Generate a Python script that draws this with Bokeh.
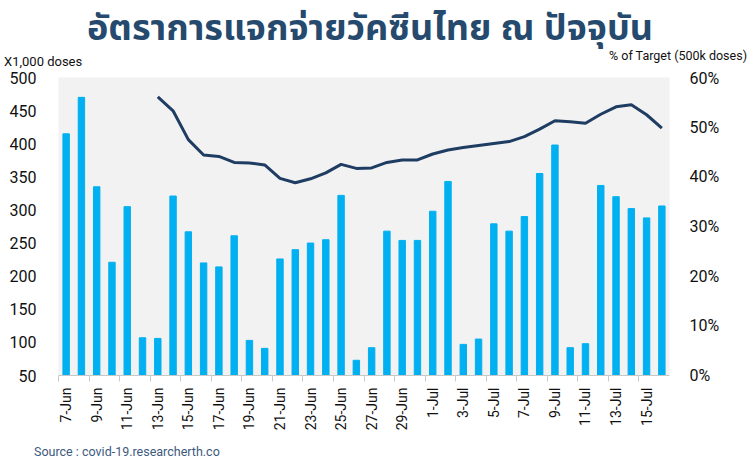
from bokeh.plotting import figure
from bokeh.models import (Range1d, LinearAxis, FixedTicker, NumeralTickFormatter,
                          ColumnDataSource, Div)
from bokeh.layouts import column
from bokeh.embed import file_html
from bokeh.resources import INLINE

dates = ["7-Jun", "8-Jun", "9-Jun", "10-Jun", "11-Jun", "12-Jun", "13-Jun", "14-Jun",
         "15-Jun", "16-Jun", "17-Jun", "18-Jun", "19-Jun", "20-Jun", "21-Jun", "22-Jun",
         "23-Jun", "24-Jun", "25-Jun", "26-Jun", "27-Jun", "28-Jun", "29-Jun", "30-Jun",
         "1-Jul", "2-Jul", "3-Jul", "4-Jul", "5-Jul", "6-Jul", "7-Jul", "8-Jul",
         "9-Jul", "10-Jul", "11-Jul", "12-Jul", "13-Jul", "14-Jul", "15-Jul", "16-Jul"]
doses_k = [415, 470, 335, 221, 305, 107, 106, 321, 267, 220, 214, 261, 103, 91, 226, 240,
           250, 255, 322, 73, 92, 268, 254, 254, 298, 343, 97, 105, 279, 268, 290, 355,
           398, 92, 98, 337, 320, 302, 288, 306]
line_dates = ["13-Jun", "14-Jun", "15-Jun", "16-Jun", "17-Jun", "18-Jun", "19-Jun", "20-Jun",
              "21-Jun", "22-Jun", "23-Jun", "24-Jun", "25-Jun", "26-Jun", "27-Jun", "28-Jun",
              "29-Jun", "30-Jun", "1-Jul", "2-Jul", "3-Jul", "4-Jul", "5-Jul", "6-Jul",
              "7-Jul", "8-Jul", "9-Jul", "10-Jul", "11-Jul", "12-Jul", "13-Jul", "14-Jul",
              "15-Jul", "16-Jul"]
pct_target = [0.561, 0.533, 0.475, 0.444, 0.441, 0.429, 0.428, 0.424, 0.397, 0.388,
              0.396, 0.408, 0.425, 0.417, 0.418, 0.429, 0.434, 0.434, 0.446, 0.454,
              0.459, 0.463, 0.467, 0.471, 0.481, 0.496, 0.513, 0.511, 0.508, 0.526,
              0.541, 0.545, 0.525, 0.498]
label_dates = ["7-Jun", "9-Jun", "11-Jun", "13-Jun", "15-Jun", "17-Jun", "19-Jun", "21-Jun",
               "23-Jun", "25-Jun", "27-Jun", "29-Jun", "1-Jul", "3-Jul", "5-Jul", "7-Jul",
               "9-Jul", "11-Jul", "13-Jul", "15-Jul"]

title_text = "อัตราการแจกจ่ายวัคซีนไทย ณ ปัจจุบัน"
left_unit = "X1,000 doses"
right_unit = "% of Target (500k doses)"
source_text = "Source : covid-19.researcherth.co"

FONT = "Roboto"
idx = {d: i for i, d in enumerate(dates)}
xs = [idx[d] for d in dates]
lx = [idx[d] for d in line_dates]

W = 747
TOP_H = 68
top_div = Div(width=W, height=TOP_H, margin=0, text=(
    '<div style="position:relative;width:747px;height:68px;">'
    '<div style="position:absolute;left:0;top:14px;width:740px;text-align:center;'
    'font-family:\'Noto Sans Thai\',\'Noto Sans\',sans-serif;font-weight:bold;font-size:36px;'
    'line-height:30px;color:#264a6e;white-space:nowrap;">' + title_text + '</div>'
    '<div style="position:absolute;left:4px;top:55px;font-family:Roboto,sans-serif;'
    'font-size:13px;line-height:13px;color:#111;white-space:nowrap;">' + left_unit + '</div>'
    '<div style="position:absolute;right:0;top:50px;font-family:Roboto,sans-serif;'
    'font-size:12.5px;line-height:12px;color:#111;white-space:nowrap;">' + right_unit + '</div>'
    '</div>'))

p = figure(width=W, height=369, output_backend="svg", toolbar_location=None,
           x_range=Range1d(-0.5, len(dates) - 0.5), y_range=Range1d(50, 500),
           min_border_left=58, min_border_right=78, min_border_top=9, min_border_bottom=62,
           margin=0)
p.outline_line_color = None
p.background_fill_color = "#f2f2f2"
p.border_fill_color = None
p.xgrid.visible = False
p.ygrid.visible = False

p.extra_y_ranges = {"pct": Range1d(0, 0.6)}

bsrc = ColumnDataSource(dict(x=xs, top=doses_k))
p.vbar(x="x", top="top", bottom=50, width=0.42, color="#00b0f0", source=bsrc)
lsrc = ColumnDataSource(dict(x=lx, y=pct_target))
p.line(x="x", y="y", y_range_name="pct", line_color="#1f3d63", line_width=3, source=lsrc)

xa = p.xaxis[0]
major = [idx[d] for d in label_dates]
xa.ticker = FixedTicker(ticks=major, minor_ticks=[m - 0.5 for m in major])
xa.major_label_overrides = {idx[d]: d for d in label_dates}
xa.major_label_orientation = 1.5708
xa.major_tick_out = 0
xa.major_tick_in = 0
xa.minor_tick_out = 6
xa.minor_tick_in = 0
xa.minor_tick_line_color = "#c8c8c8"
xa.axis_line_color = "#c8c8c8"
xa.major_label_text_font = FONT
xa.major_label_text_font_size = "14px"
xa.major_label_text_color = "#111111"
xa.major_label_standoff = 6

ya = p.yaxis[0]
ya.ticker = FixedTicker(ticks=[50, 100, 150, 200, 250, 300, 350, 400, 450, 500])
ya.axis_line_color = None
ya.major_tick_line_color = None
ya.minor_tick_line_color = None
ya.major_label_text_font = FONT
ya.major_label_text_font_size = "16px"
ya.major_label_text_color = "#111111"
ya.major_label_standoff = 16

ra = LinearAxis(y_range_name="pct", ticker=FixedTicker(ticks=[0, 0.1, 0.2, 0.3, 0.4, 0.5, 0.6]),
                formatter=NumeralTickFormatter(format="0%"))
ra.axis_line_color = None
ra.major_tick_line_color = None
ra.minor_tick_line_color = None
ra.major_label_text_font = FONT
ra.major_label_text_font_size = "16px"
ra.major_label_text_color = "#111111"
ra.major_label_standoff = 14
p.add_layout(ra, "right")

bottom_div = Div(width=W, height=20, margin=0, text=(
    '<div style="position:relative;width:747px;height:20px;">'
    '<div style="position:absolute;left:34px;top:7px;font-family:Roboto,sans-serif;'
    'font-size:12.5px;line-height:16px;color:#3d5a80;white-space:nowrap;">'
    + source_text + '</div></div>'))

layout = column(top_div, p, bottom_div, spacing=0)
open("out.html", "w").write(file_html(layout, INLINE))
